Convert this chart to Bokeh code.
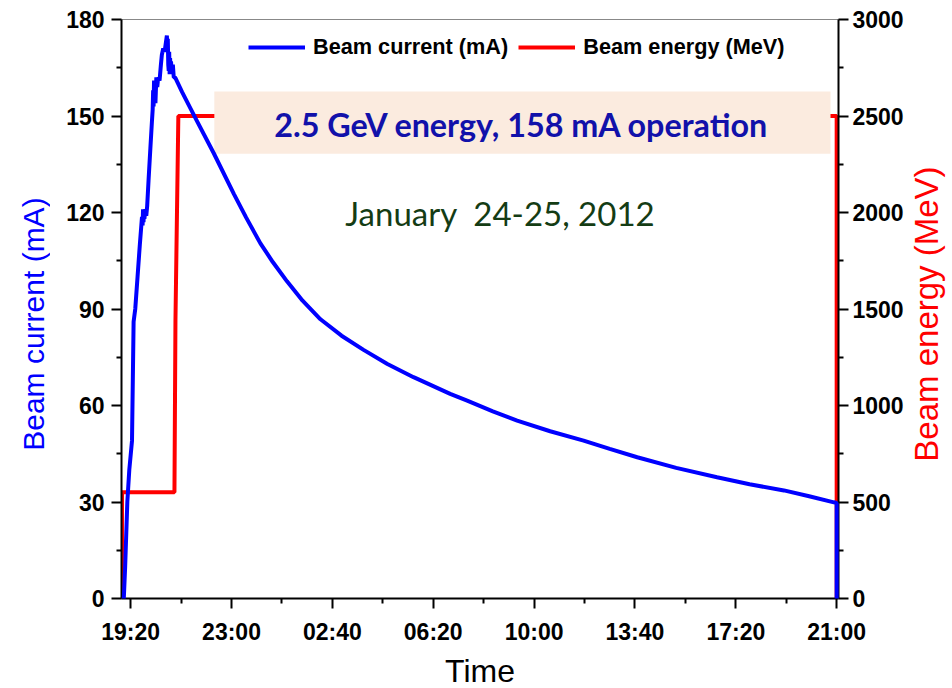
import math
from bokeh.plotting import figure
from bokeh.layouts import row
from bokeh.models import (Range1d, LinearAxis, FixedTicker, Legend, LegendItem,
                          BoxAnnotation, Label)
from bokeh.embed import file_html
from bokeh.resources import INLINE

# ---- data (time in minutes after 2012-01-24 19:00) ----
current_t = [5, 8, 12.7, 17, 22.9, 26.4, 30, 35, 40, 44.7, 46, 47, 48, 49, 50, 52, 54, 56,
             59, 63, 66.5, 68, 69, 70, 71, 72, 73, 74, 76, 78, 80, 83, 86, 88, 91, 94, 97,
             99, 100, 101, 102, 103, 104, 105, 106, 107, 108, 110, 112, 114, 117, 132,
             161, 201, 245, 272, 303, 330, 361, 395, 434, 480, 528, 580,
             637, 717, 754, 810, 863, 935, 1008, 1065, 1125, 1210, 1299, 1370, 1445, 1500,
             1554, 1560, 1560]
current_mA = [0, 10, 30, 40, 49, 86, 90, 100, 110, 118.6, 116, 121, 117, 120, 118, 121, 119, 122,
              130, 140, 148.6, 152, 158, 153, 161, 155, 160, 154, 162, 159, 162, 161, 166, 169, 171, 170, 173,
              175, 170, 174, 166, 164, 170, 163, 168, 164, 167, 163, 166, 162, 162, 157.5,
              149.4, 138.5, 125.8, 118.4, 110.4, 104.6, 98.6, 92.6, 86.8, 81.7, 77.3, 72.9,
              68.8, 63.6, 61.5, 58.2, 55.3, 52.0, 49.1, 46.5, 43.9, 40.6, 37.7, 35.5, 33.6, 31.8,
              29.9, 29.7, 0]

energy_t = [1, 1.2, 115.5, 117.7, 124, 1560, 1560]
energy_MeV = [0, 550, 550, 1440, 2500, 2500, 0]

x_tick_pos = [20, 240, 460, 680, 900, 1120, 1340, 1560]
x_tick_labels = ["19:20", "23:00", "02:40", "06:20", "10:00", "13:40", "17:20", "21:00"]
y_left_ticks = [0, 30, 60, 90, 120, 150, 180]
y_right_ticks = [0, 500, 1000, 1500, 2000, 2500, 3000]

H = 686          # canvas height
LEFT_W = 50      # strip holding the left axis title
RIGHT_W = 42     # strip holding the right axis title
RIGHT_BORDER = 67

# ---- main figure ----
p = figure(frame_width=717, frame_height=579, output_backend="svg", toolbar_location=None,
           x_range=Range1d(0, 1564), y_range=Range1d(0, 180),
           min_border_left=121 - LEFT_W, min_border_right=RIGHT_BORDER, min_border_top=19,
           min_border_bottom=H - 19 - 579)
p.xaxis.visible = False
p.yaxis.visible = False
p.grid.visible = False
p.outline_line_color = "#888888"
p.outline_line_width = 1
p.extra_y_ranges = {"energy": Range1d(0, 3000)}

def style_axis(ax, label, color, size, standoff, label_standoff):
    ax.axis_label = label
    ax.axis_label_text_color = color
    ax.axis_label_text_font = "Liberation Sans"
    ax.axis_label_text_font_style = "normal"
    ax.axis_label_text_font_size = size
    ax.axis_label_standoff = label_standoff
    ax.major_label_text_font = "Liberation Sans"
    ax.major_label_text_font_style = "bold"
    ax.major_label_text_font_size = "23px"
    ax.major_label_text_color = "black"
    ax.major_label_standoff = standoff
    ax.axis_line_width = 2
    ax.axis_line_color = "black"
    ax.major_tick_line_width = 2
    ax.minor_tick_line_width = 2
    ax.major_tick_out = 10
    ax.major_tick_in = 0
    ax.minor_tick_out = 5
    ax.minor_tick_in = 0

xminor = [(a + b) / 2 for a, b in zip(x_tick_pos[:-1], x_tick_pos[1:])]
xaxis = LinearAxis(ticker=FixedTicker(ticks=x_tick_pos, minor_ticks=xminor))
xaxis.major_label_overrides = {t: l for t, l in zip(x_tick_pos, x_tick_labels)}
style_axis(xaxis, "Time", "black", "32px", 10, 5)
p.add_layout(xaxis, "below")

yl_minor = [v + 15 for v in y_left_ticks[:-1]]
yaxis = LinearAxis(ticker=FixedTicker(ticks=y_left_ticks, minor_ticks=yl_minor))
style_axis(yaxis, None, "#0000FF", "30px", 7, 0)
p.add_layout(yaxis, "left")

yr_minor = [v + 250 for v in y_right_ticks[:-1]]
yaxis2 = LinearAxis(y_range_name="energy",
                    ticker=FixedTicker(ticks=y_right_ticks, minor_ticks=yr_minor))
style_axis(yaxis2, None, "#FF0000", "32px", 4, 0)
p.add_layout(yaxis2, "right")

r_en = p.line(energy_t, energy_MeV, line_color="#FF0000", line_width=4,
              y_range_name="energy", level="underlay")

# annotation box (drawn over the red line, under the blue one)
box = BoxAnnotation(left=202.5, right=1546.6, bottom=138.3, top=157.6,
                    fill_color="#FBEBDF", fill_alpha=1.0, line_alpha=0, level="glyph")
p.add_layout(box)

r_cur = p.line(current_t, current_mA, line_color="#0000FF", line_width=4, level="annotation")

p.add_layout(Label(x=873.5, y=147.3, text="2.5 GeV energy, 158 mA operation",
                   text_font="Lato", text_font_style="bold", text_font_size="32.3px",
                   text_color="#1111AA", text_align="center", text_baseline="middle"))
p.add_layout(Label(x=826.5, y=119.7, text="January \u00a024-25, 2012",
                   text_font="Lato", text_font_size="33px",
                   text_color="#143C14", text_align="center", text_baseline="middle"))

legend = Legend(items=[LegendItem(label="Beam current (mA)", renderers=[r_cur]),
                       LegendItem(label="Beam energy (MeV)", renderers=[r_en])],
                orientation="horizontal", location=(127, 538),
                glyph_width=57, glyph_height=26, label_height=26, label_standoff=8,
                spacing=10, padding=0, margin=0,
                label_text_font="Liberation Sans", label_text_font_style="bold",
                label_text_font_size="21.7px", label_text_color="black",
                border_line_alpha=0, background_fill_alpha=0)
p.add_layout(legend, "center")

# ---- side strips carrying the vertical axis titles (both read bottom-to-top) ----
def title_strip(width, x, y, text, color, size):
    s = figure(width=width, height=H, output_backend="svg", toolbar_location=None,
               x_range=Range1d(0, width), y_range=Range1d(H, 0),
               x_axis_type=None, y_axis_type=None,
               min_border_left=0, min_border_right=0, min_border_top=0, min_border_bottom=0)
    s.grid.visible = False
    s.outline_line_color = None
    s.add_layout(Label(x=x, y=y, text=text, angle=math.pi / 2,
                       text_font="Liberation Sans", text_font_size=size,
                       text_color=color, text_align="center", text_baseline="middle"))
    return s

left_strip = title_strip(LEFT_W, 33, 364, "Beam current (mA)", "#0000FF", "30px")
right_strip = title_strip(RIGHT_W, 20, 352, "Beam energy (MeV)", "#FF0000", "33px")

layout = row(left_strip, p, right_strip, spacing=0)

open("out.html", "w").write(file_html(layout, INLINE))
